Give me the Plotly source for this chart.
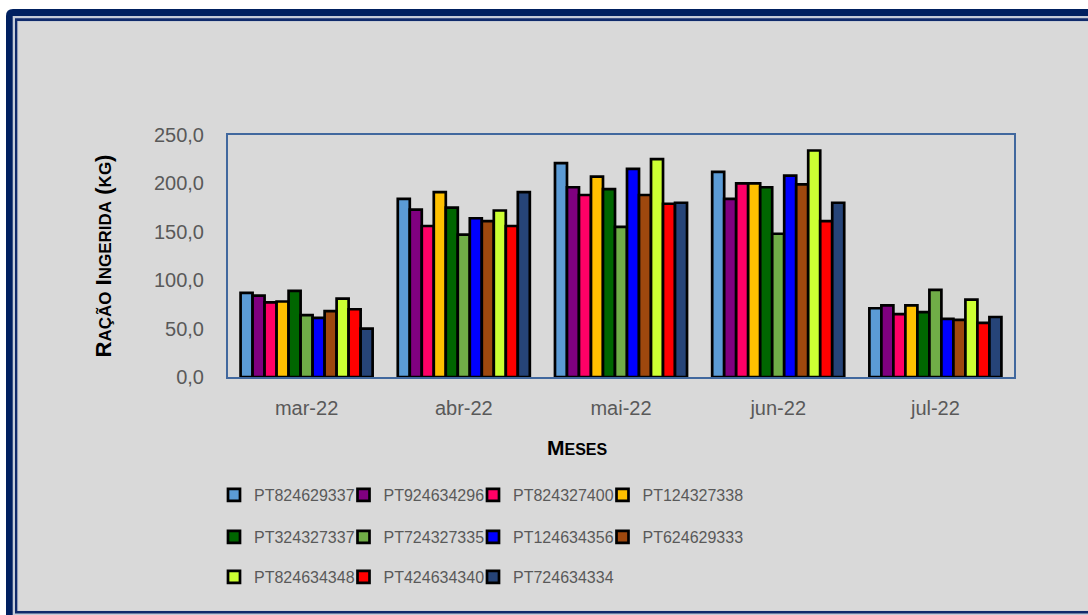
import plotly.graph_objects as go

# Monthly feed intake per animal (kg)
months = ["mar-22", "abr-22", "mai-22", "jun-22", "jul-22"]
animals = [
    "PT824629337", "PT924634296", "PT824327400", "PT124327338",
    "PT324327337", "PT724327335", "PT124634356", "PT624629333",
    "PT824634348", "PT424634340", "PT724634334",
]
pt824629337 = [87, 184, 221, 212, 71]
pt924634296 = [84, 173, 196, 184, 74]
pt824327400 = [77, 156, 188, 200, 65]
pt124327338 = [78, 191, 207, 200, 74]
pt324327337 = [89, 175, 194, 196, 67]
pt724327335 = [64, 147, 155, 148, 90]
pt124634356 = [61, 164, 215, 208, 60]
pt624629333 = [68, 161, 188, 199, 59]
pt824634348 = [81, 172, 225, 234, 80]
pt424634340 = [70, 156, 179, 161, 56]
pt724634334 = [50, 191, 180, 180, 62]
series = [
    pt824629337, pt924634296, pt824327400, pt124327338, pt324327337,
    pt724327335, pt124634356, pt624629333, pt824634348, pt424634340,
    pt724634334,
]
colors = [
    "#5B9BD5", "#800080", "#FF0066", "#FFC000", "#006600", "#70AD47",
    "#0000FF", "#9E480E", "#CCFF33", "#FF0000", "#264478",
]
legend_rows = ["legend"] * 4 + ["legend2"] * 4 + ["legend3"] * 3
row_last = {3, 7, 10}

FONT = "Liberation Sans, Arial, sans-serif"
GREY_TXT = "#595959"

W_PX, H_PX = 1088, 615
ML, MR, MT, MB = 228, 74, 135, 238
PW = W_PX - ML - MR
PH = H_PX - MT - MB


def fx(px):
    return (px - ML) / PW


def fy(py):
    return (H_PX - MB - py) / PH


fig = go.Figure()
for i, (name, vals, col, lg) in enumerate(zip(animals, series, colors, legend_rows)):
    fig.add_trace(go.Bar(
        x=months, y=vals, name=name, legend=lg,
        legendwidth=120 if i in row_last else 84.5,
        marker=dict(color=col, line=dict(color="#000000", width=2.7)),
    ))

# Decorative double frame around the chart
frame = []
r = 7
x0, y0 = 6, 9
outer = (f"M{fx(x0)},{fy(y0 + r)} Q{fx(x0)},{fy(y0)} {fx(x0 + r)},{fy(y0)} "
         f"L{fx(1110)},{fy(y0)} L{fx(1110)},{fy(640)} L{fx(x0)},{fy(640)} Z")
frame.append(dict(type="path", path=outer, xref="paper", yref="paper",
                  fillcolor="#002060", line=dict(width=0), layer="below"))
for (a, b, c, d, col) in [
    (12.7, 16, 1110, 640, "#C5CCD8"),
    (15, 18.3, 1110, 613.5, "#0F2A6B"),
    (17.3, 21, 1110, 611, "#C9CED6"),
    (18.3, 22, 1110, 610.5, "#D9D9D9"),
]:
    frame.append(dict(type="rect", xref="paper", yref="paper",
                      x0=fx(a), x1=fx(c), y0=fy(b), y1=fy(d),
                      fillcolor=col, line=dict(width=0), layer="below"))

legend_common = dict(
    orientation="h", xanchor="left", yanchor="middle",
    bgcolor="rgba(0,0,0,0)", entrywidthmode="pixels",
    font=dict(family=FONT, size=16, color=GREY_TXT), itemclick=False,
)

fig.update_layout(
    width=W_PX, height=H_PX,
    margin=dict(l=ML, r=MR, t=MT, b=MB),
    paper_bgcolor="#FFFFFF",
    plot_bgcolor="rgba(0,0,0,0)",
    separators=",.",
    barmode="group", bargap=0.16, bargroupgap=0,
    font=dict(family=FONT, color=GREY_TXT),
    shapes=frame,
    legend=dict(x=fx(214), y=fy(495), **legend_common),
    legend2=dict(x=fx(214), y=fy(537), **legend_common),
    legend3=dict(x=fx(214), y=fy(577), **legend_common),
    annotations=[dict(
        text="<b>M<span style='font-size:16px'>ESES</span></b>",
        xref="paper", yref="paper", x=fx(577), y=fy(447),
        xanchor="center", yanchor="middle", showarrow=False,
        font=dict(family=FONT, size=21, color="#000000"),
    )],
    xaxis=dict(
        showline=True, mirror=True, linecolor="#41689E", linewidth=2,
        ticks="", ticklabelstandoff=12,
        tickfont=dict(family=FONT, size=20, color=GREY_TXT),
    ),
    yaxis=dict(
        range=[0, 250], dtick=50, tickformat=".1f",
        showline=True, mirror=True, linecolor="#41689E", linewidth=2,
        showgrid=False, zeroline=False, ticks="", ticklabelstandoff=18,
        tickfont=dict(family=FONT, size=20, color=GREY_TXT),
        title=dict(
            text=("<b>R<span style='font-size:17px'>AÇÃO</span> "
                  "I<span style='font-size:17px'>NGERIDA</span> "
                  "(<span style='font-size:17px'>KG</span>)</b>"),
            font=dict(family=FONT, size=22, color="#000000"), standoff=36,
        ),
    ),
)

fig.write_html("out.html")
